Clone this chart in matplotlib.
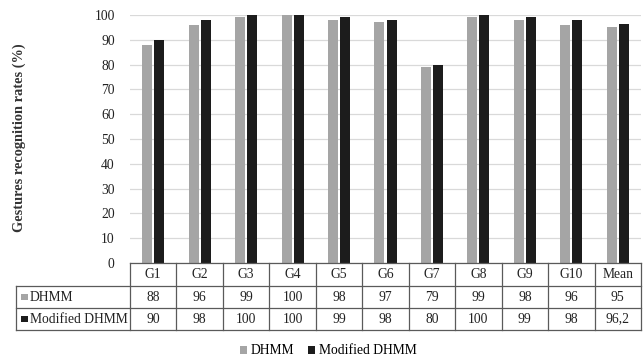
import matplotlib
matplotlib.use("Agg")
import matplotlib.pyplot as plt
from matplotlib.patches import Rectangle
import numpy as np

categories = ["G1", "G2", "G3", "G4", "G5", "G6", "G7", "G8", "G9", "G10", "Mean"]
dhmm = [88, 96, 99, 100, 98, 97, 79, 99, 98, 96, 95]
modified_dhmm = [90, 98, 100, 100, 99, 98, 80, 100, 99, 98, 96.2]
dhmm_labels = ["88", "96", "99", "100", "98", "97", "79", "99", "98", "96", "95"]
modified_labels = ["90", "98", "100", "100", "99", "98", "80", "100", "99", "98", "96,2"]
series_names = ["DHMM", "Modified DHMM"]
yticks = list(range(0, 101, 10))

GRAY = "#a5a5a5"
BLACK = "#1c1c1c"
GRID = "#d9d9d9"
BORDER = "#5a5a5a"
TEXT = "#222222"
FONT = "Liberation Serif"
FS = 9.8

plt.rcParams["font.family"] = [FONT, "DejaVu Serif"]

W, H = 644, 361
fig = plt.figure(figsize=(W / 100, H / 100), dpi=100)
fig.patch.set_facecolor("white")

def fx(px):
    return px / W

def fy(py):
    return 1 - py / H

# plot area
left, right, top, bottom = 130, 641, 15, 263
ax = fig.add_axes([fx(left), fy(bottom), fx(right) - fx(left), fy(top) - fy(bottom)])
n = len(categories)
x = np.arange(n)
bw = 0.215
off = 0.13
ax.bar(x - off, dhmm, width=bw, color=GRAY, zorder=3)
ax.bar(x + off, modified_dhmm, width=bw, color=BLACK, zorder=3)
ax.set_xlim(-0.5, n - 0.5)
ax.set_ylim(0, 100)
ax.set_yticks(yticks)
ax.set_yticklabels([str(v) for v in yticks], fontsize=FS, color=TEXT)
ax.tick_params(axis="y", length=0, pad=11)
ax.set_xticks([])
ax.yaxis.grid(True, color=GRID, linewidth=0.9, zorder=0)
for s in ax.spines.values():
    s.set_visible(False)
ax.set_ylabel("Gestures recognition rates (%)", fontsize=10.4, fontweight="bold", color="#333333")
ax.yaxis.set_label_coords((26 - left) / (right - left), (bottom - 138) / (bottom - top))

# data table below the plot area
tab_left, tab_top, tab_bottom = 16, 263, 330
row_edges = [263, 286, 308, 330]
px_per_cat = (right - left) / n
tx0 = -0.5 - (left - tab_left) / px_per_cat
tax = fig.add_axes([fx(tab_left), fy(tab_bottom), fx(right) - fx(tab_left), fy(tab_top) - fy(tab_bottom)])
tax.set_xlim(tx0, n - 0.5)
tax.set_ylim(tab_bottom, tab_top)
tax.axis("off")

lw = 0.9
# horizontal lines
tax.plot([-0.5, n - 0.5], [row_edges[0]] * 2, color=BORDER, lw=lw, clip_on=False)
for yy in row_edges[1:]:
    tax.plot([tx0, n - 0.5], [yy] * 2, color=BORDER, lw=lw, clip_on=False)
# vertical lines
for i in range(n + 1):
    tax.plot([i - 0.5] * 2, [row_edges[0], row_edges[-1]], color=BORDER, lw=lw, clip_on=False)
tax.plot([tx0] * 2, [row_edges[1], row_edges[-1]], color=BORDER, lw=lw, clip_on=False)

rows = [categories, dhmm_labels, modified_labels]
for r, vals in enumerate(rows):
    yc = (row_edges[r] + row_edges[r + 1]) / 2
    for i, v in enumerate(vals):
        tax.text(i, yc, v, ha="center", va="center", fontsize=FS, color=TEXT)

# row headers with legend keys
key_px = 6.5
for r, (name, col) in enumerate(zip(series_names, [GRAY, BLACK])):
    yc = (row_edges[r + 1] + row_edges[r + 2]) / 2
    kx = tx0 + 5 / px_per_cat
    tax.add_patch(Rectangle((kx, yc - key_px / 2), key_px / px_per_cat, key_px,
                            facecolor=col, edgecolor="none", clip_on=False))
    tax.text(kx + 8.5 / px_per_cat, yc, name, ha="left", va="center", fontsize=FS, color=TEXT)

# legend below the table
handles = [Rectangle((0, 0), 1, 1, facecolor=c, edgecolor="none") for c in [GRAY, BLACK]]
fig.legend(handles, series_names, loc="center", bbox_to_anchor=(fx(328), fy(351)),
           ncol=2, frameon=False, fontsize=FS, handlelength=0.55, handleheight=0.55,
           handletextpad=0.25, columnspacing=1.0)

fig.savefig("out.png", dpi=100, facecolor="white")
